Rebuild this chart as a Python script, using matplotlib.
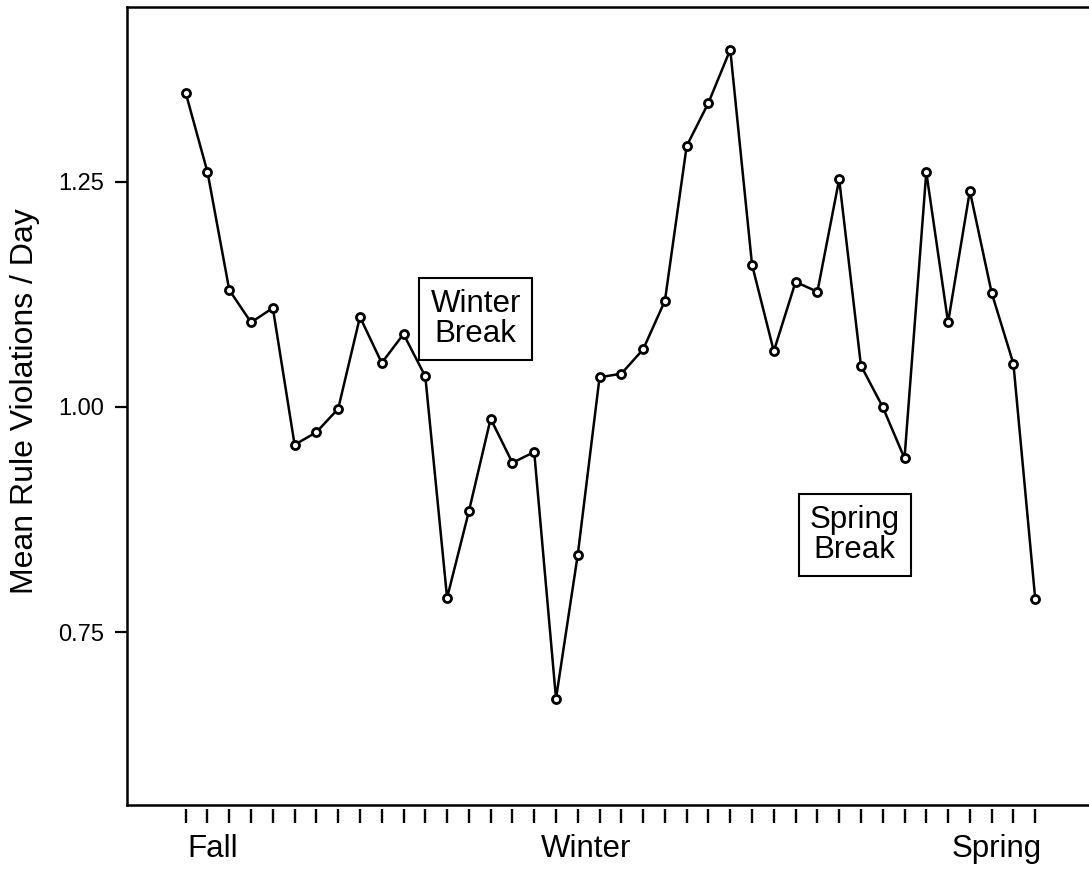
import matplotlib
matplotlib.use("Agg")
import matplotlib.pyplot as plt
import numpy as np

# ---- data ----
values = [1.349, 1.261, 1.130, 1.094, 1.110, 0.958, 0.972, 0.998, 1.100, 1.049,
          1.081, 1.034, 0.788, 0.884, 0.987, 0.938, 0.950, 0.676, 0.836, 1.033,
          1.037, 1.064, 1.118, 1.290, 1.338, 1.397, 1.158, 1.062, 1.139, 1.128,
          1.253, 1.046, 1.000, 0.943, 1.261, 1.094, 1.240, 1.127, 1.048, 0.787]
weeks = list(range(len(values)))
season_labels = ["Fall", "Winter", "Spring"]
season_pos = [1.22, 18.36, 37.25]
ytick_vals = [0.75, 1.00, 1.25]
ytick_labels = ["0.75", "1.00", "1.25"]
annotations = [("Winter\nBreak", 13.31, 1.098), ("Spring\nBreak", 30.71, 0.858)]

plt.rcParams['font.family'] = ['Liberation Sans', 'DejaVu Sans']

W, H = 1089, 875
fig = plt.figure(figsize=(W / 100, H / 100), dpi=100)
ax = fig.add_axes([127 / W, 70 / H, 1 - 127 / W, 798 / H])

ax.plot(weeks, values, color='black', lw=1.8, marker='o', ms=5.8,
        mfc='white', mec='black', mew=2.0, zorder=3)

ax.set_xlim(-2.695, 41.47)
ax.set_ylim(0.5578, 1.4444)

for s in ['left', 'top', 'bottom']:
    ax.spines[s].set_linewidth(1.8)
ax.spines['right'].set_visible(False)

ax.set_yticks(ytick_vals)
ax.set_yticklabels(ytick_labels, fontsize=17)
ax.tick_params(axis='y', direction='out', length=8.6, width=1.6, pad=8)
ax.set_xticks([])

ax.set_ylabel("Mean Rule Violations / Day", fontsize=23, va='center')
ax.yaxis.set_label_coords(-0.106, 0.506)

sec = ax.secondary_xaxis(-0.005)
sec.spines['bottom'].set_visible(False)
sec.set_xticks(weeks)
sec.set_xticklabels([""] * len(weeks))
sec.tick_params(axis='x', which='major', direction='out', length=10, width=1.7)
sec.set_xticks(season_pos, minor=True)
sec.set_xticklabels(season_labels, minor=True, fontsize=22.5)
sec.tick_params(axis='x', which='minor', length=0, pad=18)

for txt, xx, yy in annotations:
    ax.text(xx, yy, txt, fontsize=22.5, ha='center', va='center',
            linespacing=1.0,
            bbox=dict(boxstyle='square,pad=0.35', fc='white', ec='black', lw=1.5),
            zorder=4)

fig.savefig("out.png", dpi=100)
